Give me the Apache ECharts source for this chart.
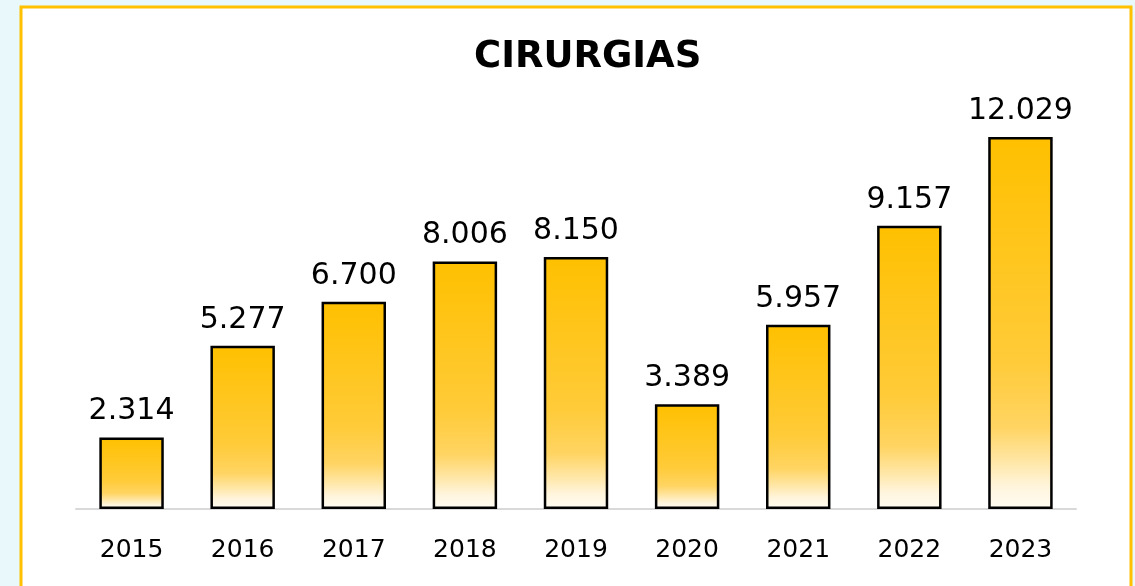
<!DOCTYPE html>
<html>
<head>
<meta charset="utf-8">
<script src="https://cdn.jsdelivr.net/npm/echarts@6/dist/echarts.min.js"></script>
<style>
  html, body { margin: 0; padding: 0; background: #e9f8fb; }
  #chart { width: 1135px; height: 586px; }
</style>
</head>
<body>
<div id="chart"></div>
<script>
const years = ['2015', '2016', '2017', '2018', '2019', '2020', '2021', '2022', '2023'];
const cirurgias = [2314, 5277, 6700, 8006, 8150, 3389, 5957, 9157, 12029];

// formato pt-BR: 12029 -> 12.029
const fmt = v => v.toLocaleString('pt-BR');

const chart = echarts.init(document.getElementById('chart'));

const barGradient = new echarts.graphic.LinearGradient(0, 0, 0, 1, [
    { offset: 0, color: '#ffc000' },
    { offset: 0.6, color: '#ffcb38' },
    { offset: 0.78, color: '#ffd462' },
    { offset: 0.88, color: '#ffe8ac' },
    { offset: 0.94, color: '#fff5dd' },
    { offset: 1, color: '#fffcf3' }
]);

chart.setOption({
    backgroundColor: '#e9f8fb',
    animation: false,
    graphic: [{
        type: 'rect',
        z: -10,
        shape: { x: 21, y: 7, width: 1110, height: 600 },
        style: { fill: '#ffffff', stroke: '#ffc000', lineWidth: 3 }
    }],
    title: {
        text: 'CIRURGIAS',
        left: 469,
        top: 34,
        textStyle: {
            fontFamily: 'DejaVu Sans',
            fontSize: 37,
            fontWeight: 'bold',
            color: '#000'
        }
    },
    grid: { left: 76, right: 59, top: 76, bottom: 77 },
    xAxis: {
        type: 'category',
        data: years,
        axisLine: { lineStyle: { color: '#d9d9d9', width: 2 } },
        axisTick: { show: false },
        axisLabel: {
            margin: 29,
            fontFamily: 'DejaVu Sans',
            fontSize: 25,
            color: '#000'
        }
    },
    yAxis: {
        type: 'value',
        min: 0,
        max: 14000,
        show: false,
        splitLine: { show: false }
    },
    series: [{
        type: 'bar',
        data: cirurgias,
        barWidth: '58%',
        itemStyle: {
            color: barGradient,
            borderColor: '#000',
            borderWidth: 2.5
        },
        label: {
            show: true,
            position: 'top',
            distance: 11,
            formatter: p => fmt(p.value),
            fontFamily: 'DejaVu Sans',
            fontSize: 30,
            color: '#000'
        }
    }]
});
</script>
</body>
</html>
